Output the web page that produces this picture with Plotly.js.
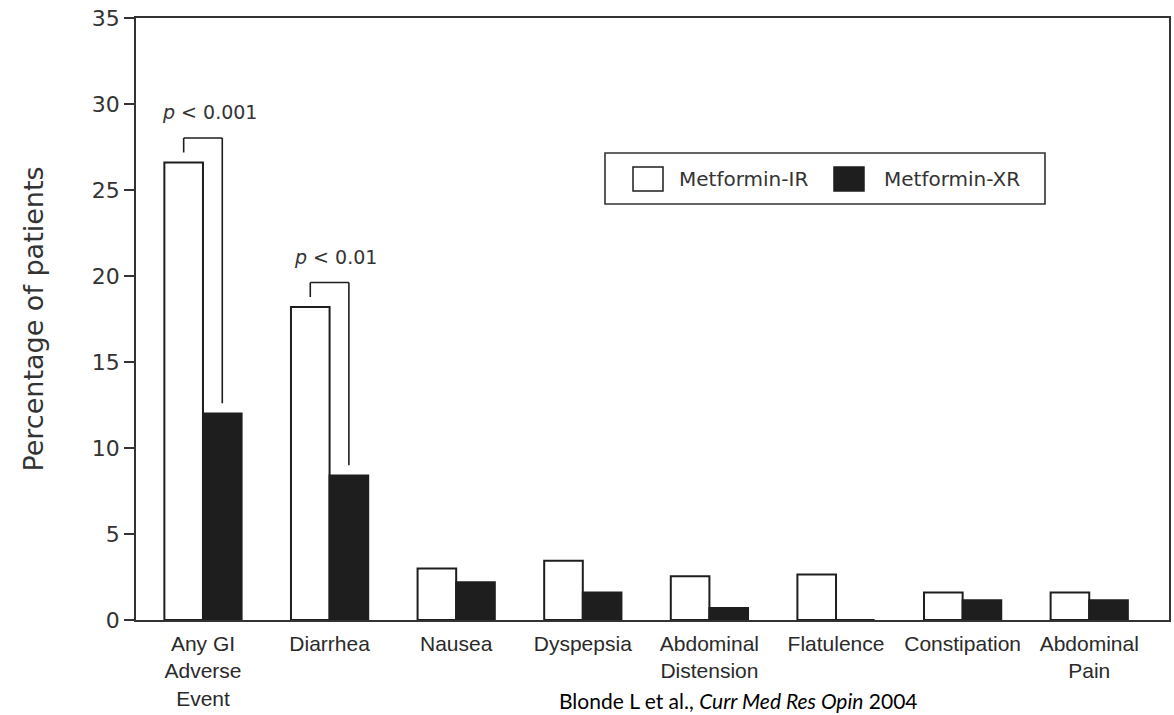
<!DOCTYPE html>
<html>
<head>
<meta charset="utf-8">
<script src="https://cdn.plot.ly/plotly-3.0.1.min.js"></script>
<style>
  html, body { margin: 0; padding: 0; background: #ffffff; }
  #chart { width: 1174px; height: 715px; }
</style>
</head>
<body>
<div id="chart"></div>
<script>
// ---------------- data ----------------
const categories = [
  'Any GI<br>Adverse<br>Event',
  'Diarrhea',
  'Nausea',
  'Dyspepsia',
  'Abdominal<br>Distension',
  'Flatulence',
  'Constipation',
  'Abdominal<br>Pain'
];
const seriesNames = ['Metformin-IR', 'Metformin-XR'];
const irValues = [26.6, 18.2, 3.0, 3.45, 2.55, 2.65, 1.6, 1.6];
const xrValues = [12.0, 8.4, 2.2, 1.6, 0.7, 0.0, 1.15, 1.15];
const yTickValues = [0, 5, 10, 15, 20, 25, 30, 35];
const pValueCategories = [0, 1];
const pValueLabels = ['<i>p</i> < 0.001', '<i>p</i> < 0.01'];
const yAxisTitle = 'Percentage of patients';
const citation = 'Blonde L et al., <i>Curr Med Res Opin</i> 2004';

// ---------------- styling ----------------
const LINE = '#333333';
const TEXT = '#333333';
const DARK = '#1e1e1e';
const plotLeft = 136, plotRight = 1169, plotTop = 18, plotBottom = 620;
const W = 1174, H = 715;
const px2x = p => (p - plotLeft) / (plotRight - plotLeft);
const py2y = p => (plotBottom - p) / (plotBottom - plotTop);

const traceIR = {
  type: 'bar', name: seriesNames[0], x: categories, y: irValues,
  marker: { color: '#ffffff', line: { color: DARK, width: 2 } },
  hoverinfo: 'x+y+name'
};
const traceXR = {
  type: 'bar', name: seriesNames[1], x: categories, y: xrValues,
  marker: { color: DARK, line: { color: DARK, width: 2 } },
  hoverinfo: 'x+y+name'
};

// brackets derived from the data
const shapes = [];
const annotations = [];
const halfBar = 0.1525;
pValueCategories.forEach((i, k) => {
  const xl = i - halfBar, xr = i + halfBar;
  const yl = irValues[i] + 0.58;
  const yt = irValues[i] + 1.42;
  const yr = xrValues[i] + 0.6;
  const ln = { color: DARK, width: 1.6 };
  shapes.push({ type: 'line', xref: 'x', yref: 'y', x0: xl, x1: xl, y0: yl, y1: yt, line: ln });
  shapes.push({ type: 'line', xref: 'x', yref: 'y', x0: xl, x1: xr, y0: yt, y1: yt, line: ln });
  shapes.push({ type: 'line', xref: 'x', yref: 'y', x0: xr, x1: xr, y0: yt, y1: yr, line: ln });
  annotations.push({
    xref: 'x', yref: 'y', x: i + 0.05, y: yt, yanchor: 'bottom', xanchor: 'center',
    yshift: 13, text: pValueLabels[k], showarrow: false,
    font: { family: 'DejaVu Sans, sans-serif', size: 19, color: TEXT }
  });
});

// custom legend
shapes.push({ type: 'rect', xref: 'paper', yref: 'paper',
  x0: px2x(605), x1: px2x(1045), y0: py2y(204), y1: py2y(153),
  line: { color: LINE, width: 1.6 }, fillcolor: 'rgba(255,255,255,0)' });
const swatchX = [633, 834];
const labelX = [677, 882];
const swatchFill = ['#ffffff', DARK];
seriesNames.forEach((nm, k) => {
  shapes.push({ type: 'rect', xref: 'paper', yref: 'paper',
    x0: px2x(swatchX[k]), x1: px2x(swatchX[k] + 30), y0: py2y(191), y1: py2y(167),
    line: { color: DARK, width: 1.5 }, fillcolor: swatchFill[k] });
  annotations.push({
    xref: 'paper', yref: 'paper', x: px2x(labelX[k]), y: py2y(179),
    xanchor: 'left', yanchor: 'middle', text: nm, showarrow: false,
    font: { family: 'DejaVu Sans, sans-serif', size: 20, color: TEXT }
  });
});

// citation at bottom
annotations.push({
  xref: 'paper', yref: 'paper', x: px2x(557), y: py2y(715),
  xanchor: 'left', yanchor: 'bottom', text: citation, showarrow: false,
  font: { family: 'Lato, sans-serif', size: 21, color: '#000000' }
});

const layout = {
  width: W, height: H,
  margin: { l: plotLeft, r: W - plotRight, t: plotTop, b: H - plotBottom, pad: 0 },
  paper_bgcolor: '#ffffff', plot_bgcolor: '#ffffff',
  showlegend: false,
  barmode: 'group', bargap: 0.39, bargroupgap: 0,
  xaxis: {
    range: [-0.529, 7.63], showline: true, linecolor: LINE, linewidth: 1.8, mirror: true,
    ticks: '', showgrid: false, zeroline: false, fixedrange: true,
    ticklabelstandoff: 4,
    tickfont: { family: 'Liberation Sans, Arial, sans-serif', size: 21, color: '#2a2a2a' }
  },
  yaxis: {
    range: [0, 35], tickvals: yTickValues, ticktext: yTickValues.map(String),
    ticks: 'outside', ticklen: 10, tickwidth: 1.5, tickcolor: LINE,
    showline: true, linecolor: LINE, linewidth: 1.8, mirror: true,
    showgrid: false, zeroline: false, fixedrange: true,
    tickfont: { family: 'DejaVu Sans, sans-serif', size: 22, color: TEXT },
    title: { text: yAxisTitle, standoff: 40,
      font: { family: 'DejaVu Sans, sans-serif', size: 27, color: TEXT } }
  },
  shapes: shapes,
  annotations: annotations
};

Plotly.newPlot('chart', [traceIR, traceXR], layout, { displayModeBar: false, staticPlot: true });
</script>
</body>
</html>
